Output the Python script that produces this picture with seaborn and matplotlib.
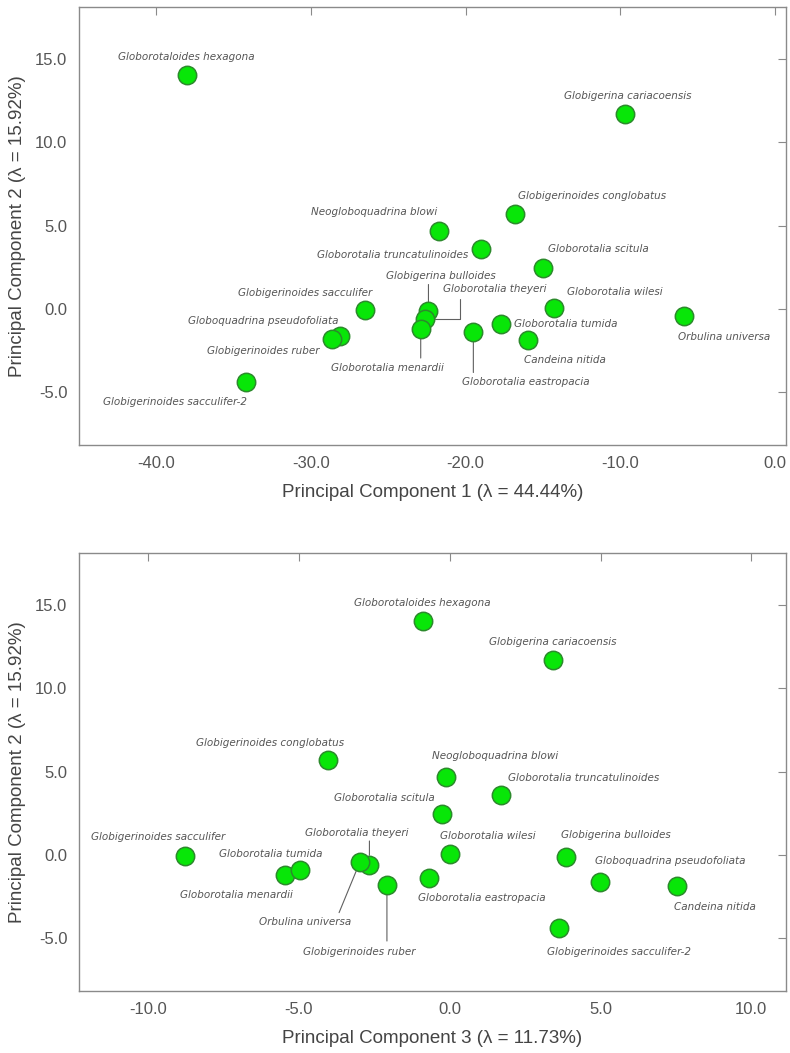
import numpy as np
import pandas as pd
import matplotlib
matplotlib.use('Agg')
import matplotlib.pyplot as plt
import seaborn as sns
from matplotlib.ticker import FormatStrFormatter, MultipleLocator

# PCA scores
species = ['Globorotaloides hexagona', 'Globigerina cariacoensis', 'Globigerinoides conglobatus',
           'Neogloboquadrina blowi', 'Globorotalia truncatulinoides', 'Globorotalia scitula',
           'Globigerinoides sacculifer', 'Globigerina bulloides', 'Globorotalia theyeri',
           'Globorotalia menardii', 'Globorotalia eastropacia', 'Globorotalia tumida',
           'Candeina nitida', 'Globorotalia wilesi', 'Orbulina universa',
           'Globoquadrina pseudofoliata', 'Globigerinoides ruber', 'Globigerinoides sacculifer-2']
pc1 = [-38.0, -9.7, -16.8, -21.7, -19.0, -15.0, -26.5, -22.4, -22.6,
       -22.9, -19.5, -17.7, -16.0, -14.3, -5.9, -28.1, -28.6, -34.2]
pc2 = [14.0, 11.7, 5.7, 4.7, 3.6, 2.45, -0.05, -0.15, -0.6,
       -1.2, -1.35, -0.9, -1.85, 0.05, -0.4, -1.6, -1.8, -4.4]
pc3 = [-0.9, 3.44, -4.04, -0.13, 1.69, -0.27, -8.78, 3.87, -2.66,
       -5.47, -0.69, -4.97, 7.55, 0.0, -2.97, 4.97, -2.08, 3.63]

df = pd.DataFrame({'species': species, 'PC1': pc1, 'PC2': pc2, 'PC3': pc3})

# label placement: pixel offset from the point (dx, dy) and alignment
labels_top = {
    'Globorotaloides hexagona': (-1, 18, 'center'),
    'Globigerina cariacoensis': (3, 18, 'center'),
    'Globigerinoides conglobatus': (3, 18, 'left'),
    'Neogloboquadrina blowi': (-2, 19, 'right'),
    'Globorotalia truncatulinoides': (-13, -6, 'right'),
    'Globorotalia scitula': (5, 19, 'left'),
    'Globigerinoides sacculifer': (7, 17, 'right'),
    'Globigerina bulloides': (12, 35, 'center'),
    'Globorotalia theyeri': (69, 30, 'center'),
    'Globorotalia menardii': (-33, -39, 'center'),
    'Globorotalia eastropacia': (52, -50, 'center'),
    'Globorotalia tumida': (13, 0, 'left'),
    'Candeina nitida': (37, -20, 'center'),
    'Globorotalia wilesi': (61, 16, 'center'),
    'Orbulina universa': (40, -21, 'center'),
    'Globoquadrina pseudofoliata': (-2, 15, 'right'),
    'Globigerinoides ruber': (-13, -12, 'right'),
    'Globigerinoides sacculifer-2': (-71, -20, 'center'),
}
leaders_top = {
    'Globigerina bulloides': (0, 27, 'arc3'),
    'Globorotalia theyeri': (35, 20, 'angle,angleA=90,angleB=0,rad=0'),
    'Globorotalia menardii': (0, -29, 'arc3'),
    'Globorotalia eastropacia': (0, -41, 'arc3'),
}

labels_bot = {
    'Globorotaloides hexagona': (0, 18, 'center'),
    'Globigerina cariacoensis': (-1, 18, 'center'),
    'Globigerinoides conglobatus': (-58, 17, 'center'),
    'Neogloboquadrina blowi': (-14, 21, 'left'),
    'Globorotalia truncatulinoides': (7, 17, 'left'),
    'Globorotalia scitula': (-7, 16, 'right'),
    'Globigerinoides sacculifer': (-27, 19, 'center'),
    'Globigerina bulloides': (-5, 22, 'left'),
    'Globorotalia theyeri': (-13, 32, 'center'),
    'Globorotalia menardii': (-48, -20, 'center'),
    'Globorotalia eastropacia': (-11, -20, 'left'),
    'Globorotalia tumida': (-29, 16, 'center'),
    'Candeina nitida': (78, -21, 'right'),
    'Globorotalia wilesi': (-10, 18, 'left'),
    'Orbulina universa': (-55, -60, 'center'),
    'Globoquadrina pseudofoliata': (-5, 21, 'left'),
    'Globigerinoides ruber': (-28, -67, 'center'),
    'Globigerinoides sacculifer-2': (-12, -24, 'left'),
}
leaders_bot = {
    'Globorotalia theyeri': (0, 24, 'arc3'),
    'Orbulina universa': (-21, -51, 'arc3'),
    'Globigerinoides ruber': (0, -56, 'arc3'),
}

sns.set_style('white')
plt.rcParams['font.family'] = ['Liberation Sans', 'DejaVu Sans']

text_col = '#555555'
frame_col = '#8a8a8a'

fig = plt.figure(figsize=(7.9, 10.53), dpi=100)
ax1 = fig.add_axes([0.0995, 0.5774, 0.8955, 0.416])
ax2 = fig.add_axes([0.0995, 0.0589, 0.8955, 0.416])


def draw_panel(ax, xcol, labels, leaders, xlim, xstep, xlabel):
    sns.scatterplot(data=df, x=xcol, y='PC2', ax=ax, s=175, color='#08e608',
                    edgecolor='#2c8a2c', linewidth=1.1, zorder=3, legend=False)
    for _, row in df.iterrows():
        dx, dy, ha = labels[row['species']]
        ax.annotate(row['species'], xy=(row[xcol], row['PC2']), xytext=(dx, dy),
                    textcoords='offset pixels', ha=ha, va='center',
                    fontsize=7.5, style='italic', color=text_col,
                    family=['DejaVu Sans'], zorder=2)
    for name, (lx, ly, cs) in leaders.items():
        row = df[df['species'] == name].iloc[0]
        ax.annotate('', xy=(row[xcol], row['PC2']), xytext=(lx, ly),
                    textcoords='offset pixels',
                    arrowprops=dict(arrowstyle='-', color='#606060', lw=0.8,
                                    shrinkA=0, shrinkB=7, connectionstyle=cs),
                    zorder=2)
    ax.set_xlim(*xlim)
    ax.set_ylim(-8.15, 18.1)
    ax.xaxis.set_major_locator(MultipleLocator(xstep))
    ax.yaxis.set_major_locator(MultipleLocator(5))
    ax.xaxis.set_major_formatter(FormatStrFormatter('%.1f'))
    ax.yaxis.set_major_formatter(FormatStrFormatter('%.1f'))
    ax.tick_params(direction='in', length=6, width=0.8, color=frame_col,
                   top=True, right=True, labelsize=12, labelcolor='#555555', pad=8)
    for sp in ax.spines.values():
        sp.set_color(frame_col)
        sp.set_linewidth(1.0)
    ax.set_xlabel(xlabel, fontsize=13.5, color='#444444', labelpad=9)
    ax.set_ylabel('Principal Component 2 (\u03bb = 15.92%)', fontsize=13.5,
                  color='#444444', labelpad=7)


draw_panel(ax1, 'PC1', labels_top, leaders_top, (-45.0, 0.7), 10,
           'Principal Component 1 (\u03bb = 44.44%)')
draw_panel(ax2, 'PC3', labels_bot, leaders_bot, (-12.3, 11.15), 5,
           'Principal Component 3 (\u03bb = 11.73%)')

fig.savefig('out.png', dpi=100)
